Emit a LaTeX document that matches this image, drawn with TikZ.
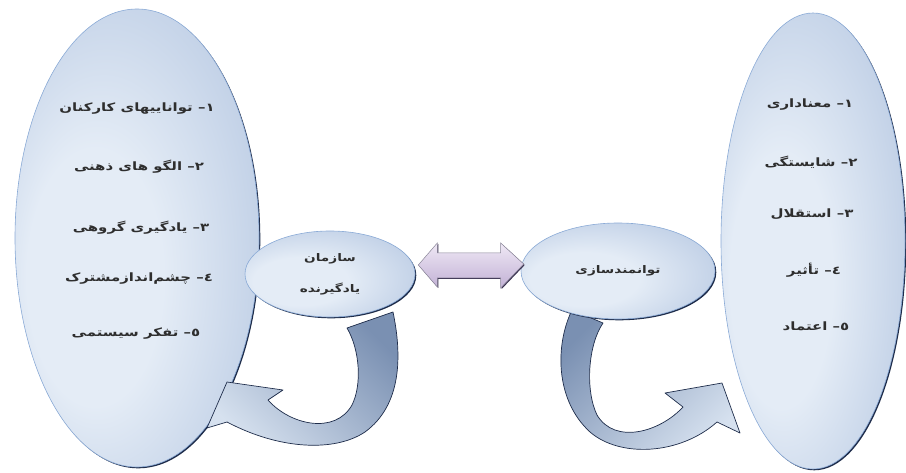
\documentclass[tikz,border=0pt]{standalone}
\usepackage{fontspec}
\usetikzlibrary{shapes.geometric,shadows,calc}
\TeXXeTstate=1
\newfontfamily\arabicfont[Script=Arabic, FakeStretch=1.3]{DejaVu Sans Bold}
\newcommand\capfont{\arabicfont\fontsize{10.5}{12}\selectfont}

\definecolor{rimdark}{HTML}{1E2C4A}
\definecolor{rimlight}{HTML}{8AAAD6}
\definecolor{glassin}{HTML}{E4ECF6}
\definecolor{glassout}{HTML}{9CB3D6}
\definecolor{steel}{HTML}{7A90B2}
\definecolor{pale}{HTML}{D6E1EF}
\definecolor{lavtop}{HTML}{EFE8F5}
\definecolor{lavbot}{HTML}{C2B1D5}
\definecolor{lavrim}{HTML}{3B3352}
\definecolor{inkc}{HTML}{2E2E2E}

% pale glassy fill, darker towards the rim
\pgfdeclareradialshading{glass}{\pgfpoint{-12bp}{-6bp}}{%
  color(0bp)=(glassin); color(14bp)=(glassin); color(50bp)=(glassout)}

\tikzset{
  bubble/.style={ellipse, shading=glass, draw=rimlight, line width=0.6pt,
    inner sep=0pt, align=center, text=inkc,
    drop shadow={shadow xshift=1.3pt, shadow yshift=-1.3pt, fill=rimdark, opacity=1}},
  item/.style={font=\arabicfont\fontsize{11.5}{13}\selectfont, text=inkc, inner sep=1pt},
  curl/.style={draw=rimdark, line width=0.7pt, line join=round},
  twoway/.style={top color=lavtop, bottom color=lavbot, draw=lavrim!60, line width=0.5pt,
    drop shadow={shadow xshift=1pt, shadow yshift=-1pt, fill=lavrim, opacity=1}},
}

\begin{document}
\begin{tikzpicture}[x=1pt, y=-1pt]
\useasboundingbox (0,0) rectangle (906,473);

% the two tall ellipses holding the lists
\node[bubble, minimum width=244pt, minimum height=458pt] (skills) at (137,238) {};
\node[bubble, minimum width=184pt, minimum height=456pt] (traits) at (813,241) {};

% list of the learning organisation
\node[item] (l1) at (137,109) {\beginR ١– تواناییهای کارکنان\endR};
\node[item] (l2) at (139,167) {\beginR ٢– الگو های ذهنی\endR};
\node[item] (l3) at (141,228) {\beginR ٣– یادگیری گروهی\endR};
\node[item] (l4) at (139,279) {\beginR ٤– چشم‌اندازمشترک\endR};
\node[item] (l5) at (136,334) {\beginR ٥– تفکر سیستمی\endR};

% list of empowerment
\node[item] (r1) at (810,105) {\beginR ١– معناداری\endR};
\node[item] (r2) at (811,162) {\beginR ٢– شایستگی\endR};
\node[item] (r3) at (812,214) {\beginR ٣– استقلال\endR};
\node[item] (r4) at (814,270) {\beginR ٤– تأثیر\endR};
\node[item] (r5) at (816,326) {\beginR ٥– اعتماد\endR};

% curled arrow turning back to the left ellipse
\path[curl, top color=steel, bottom color=pale, middle color=steel!50!pale, shading angle=-45]
  (347,328) -- (393,312)
  .. controls (402,355) and (402,405) .. (365,432)
  .. controls (335,452) and (280,450) .. (227,422)
  -- (207,428) -- (227,382) -- (283,390) -- (268,400)
  .. controls (290,425) and (335,435) .. (352,405)
  .. controls (362,385) and (360,350) .. (347,328) -- cycle;

% curled arrow turning on to the right ellipse
\path[curl, top color=steel, bottom color=pale, middle color=steel!50!pale, shading angle=45]
  (603,323) -- (572,310)
  .. controls (555,345) and (555,400) .. (590,432)
  .. controls (620,458) and (680,455) .. (717,422)
  -- (740,433) -- (722,383) -- (665,393) -- (683,407)
  .. controls (660,432) and (615,445) .. (597,415)
  .. controls (585,390) and (588,345) .. (603,323) -- cycle;

% the two small ellipses
\node[bubble, minimum width=170pt, minimum height=86pt] (org) at (330,274)
  {\capfont\beginR سازمان\endR\\[18pt]\capfont\beginR یادگیرنده\endR};
\node[bubble, minimum width=194pt, minimum height=96pt] (emp) at (618,271)
  {\capfont\beginR توانمندسازی\endR};

% two-headed arrow between them
\coordinate (dl) at ($(org.east)+(3,-9)$);
\coordinate (dr) at ($(emp.west)+(3,-7)$);
\path[twoway]
  (dl) -- ($(dl)+(19,-22)$) -- ($(dl)+(19,-12)$) -- ($(dr)+(-23,-11)$)
  -- ($(dr)+(-23,-21)$) -- (dr) -- ($(dr)+(-23,24)$) -- ($(dr)+(-23,14)$)
  -- ($(dl)+(19,13)$) -- ($(dl)+(19,22)$) -- cycle;
\end{tikzpicture}
\end{document}
